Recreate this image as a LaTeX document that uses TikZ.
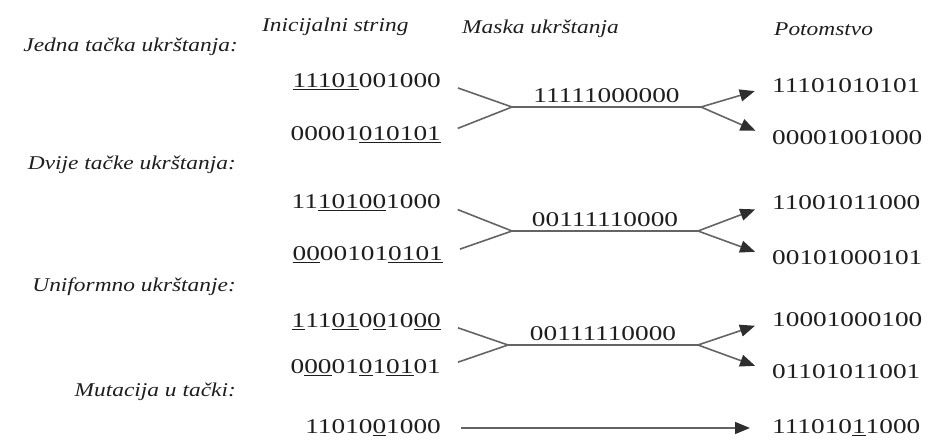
\documentclass[tikz,border=0pt]{standalone}
\usepackage{fontspec}
\setmainfont{Liberation Serif}
\newfontfamily\digitsfont[FakeStretch=1.3]{Liberation Serif}
\newfontfamily\labelfont[FakeStretch=1.2]{Liberation Serif}
\usetikzlibrary{arrows.meta}
\newcommand{\un}[1]{\underline{#1}}
\definecolor{inkc}{HTML}{1E1E1E}
\definecolor{linec}{HTML}{646464}
\definecolor{tipc}{HTML}{2E2E2E}
\tikzset{
  lab/.style={font=\labelfont\itshape\fontsize{19.5}{22}\selectfont, text=inkc, inner sep=0pt},
  bits/.style={font=\digitsfont\fontsize{21}{24}\selectfont, text=inkc, inner sep=0pt},
  branch/.style={draw=linec, line width=1.6pt},
  arr/.style={-{Triangle[length=15pt,width=12pt,color=tipc]}},
}
\begin{document}
\begin{tikzpicture}[x=1pt,y=-1pt]
\useasboundingbox (0,0) rectangle (929,441);
% headers
\node[lab, anchor=west] (h1) at (262,27) {Inicijalni string};
\node[lab, anchor=west] (h2) at (462,29) {Maska ukrštanja};
\node[lab, anchor=west] (h3) at (774,29) {Potomstvo};
% row labels
\node[lab, anchor=east] (l1) at (238,47) {Jedna tačka ukrštanja:};
\node[lab, anchor=east] (l2) at (236,165) {Dvije tačke ukrštanja:};
\node[lab, anchor=east] (l3) at (236,287) {Uniformno ukrštanje:};
\node[lab, anchor=east] (l4) at (236,392) {Mutacija u tački:};
% ---- row 1
\node[bits, anchor=east] (p1a) at (441,82) {\un{11101}001000};
\node[bits, anchor=east] (p1b) at (441,135) {00001\un{010101}};
\node[bits, anchor=west] (o1a) at (772,86) {11101010101};
\node[bits, anchor=west] (o1b) at (772,138) {00001001000};
\coordinate (a1L) at (512,107);
\coordinate (a1R) at (701,107);
\draw[branch, shorten <=18pt] (p1a.east) -- (a1L);
\draw[branch, shorten <=18pt] (p1b.east) -- (a1L);
\draw[branch] (a1L) -- node[bits, above=3pt] (m1) {11111000000} (a1R);
\draw[branch, arr, shorten >=18pt] (a1R) -- (o1a.west);
\draw[branch, arr, shorten >=18pt] (a1R) -- (o1b.west);
% ---- row 2
\node[bits, anchor=east] (p2a) at (441,203) {11\un{10100}1000};
\node[bits, anchor=east] (p2b) at (443,255) {\un{00}00101\un{0101}};
\node[bits, anchor=west] (o2a) at (772,203) {11001011000};
\node[bits, anchor=west] (o2b) at (772,258) {00101000101};
\coordinate (a2L) at (512,231);
\coordinate (a2R) at (698,231);
\draw[branch, shorten <=18pt] (p2a.east) -- (a2L);
\draw[branch, shorten <=18pt] (p2b.east) -- (a2L);
\draw[branch] (a2L) -- node[bits, above=3pt] (m2) {00111110000} (a2R);
\draw[branch, arr, shorten >=18pt] (a2R) -- (o2a.west);
\draw[branch, arr, shorten >=18pt] (a2R) -- (o2b.west);
% ---- row 3
\node[bits, anchor=east] (p3a) at (441,322) {\un{1}11\un{01}0\un{0}10\un{00}};
\node[bits, anchor=east] (p3b) at (441,368) {0\un{00}01\un{0}1\un{01}01};
\node[bits, anchor=west] (o3a) at (772,320) {10001000100};
\node[bits, anchor=west] (o3b) at (772,372) {01101011001};
\coordinate (a3L) at (508,345);
\coordinate (a3R) at (698,345);
\draw[branch, shorten <=18pt] (p3a.east) -- (a3L);
\draw[branch, shorten <=18pt] (p3b.east) -- (a3L);
\draw[branch] (a3L) -- node[bits, above=3pt] (m3) {00111110000} (a3R);
\draw[branch, arr, shorten >=18pt] (a3R) -- (o3a.west);
\draw[branch, arr, shorten >=18pt] (a3R) -- (o3b.west);
% ---- row 4
\node[bits, anchor=east] (p4) at (441,428) {11010\un{0}1000};
\node[bits, anchor=west] (o4) at (772,428) {111010\un{1}1000};
\draw[branch, arr, shorten <=20pt, shorten >=22pt] (p4.east) -- (o4.west);
\end{tikzpicture}
\end{document}
